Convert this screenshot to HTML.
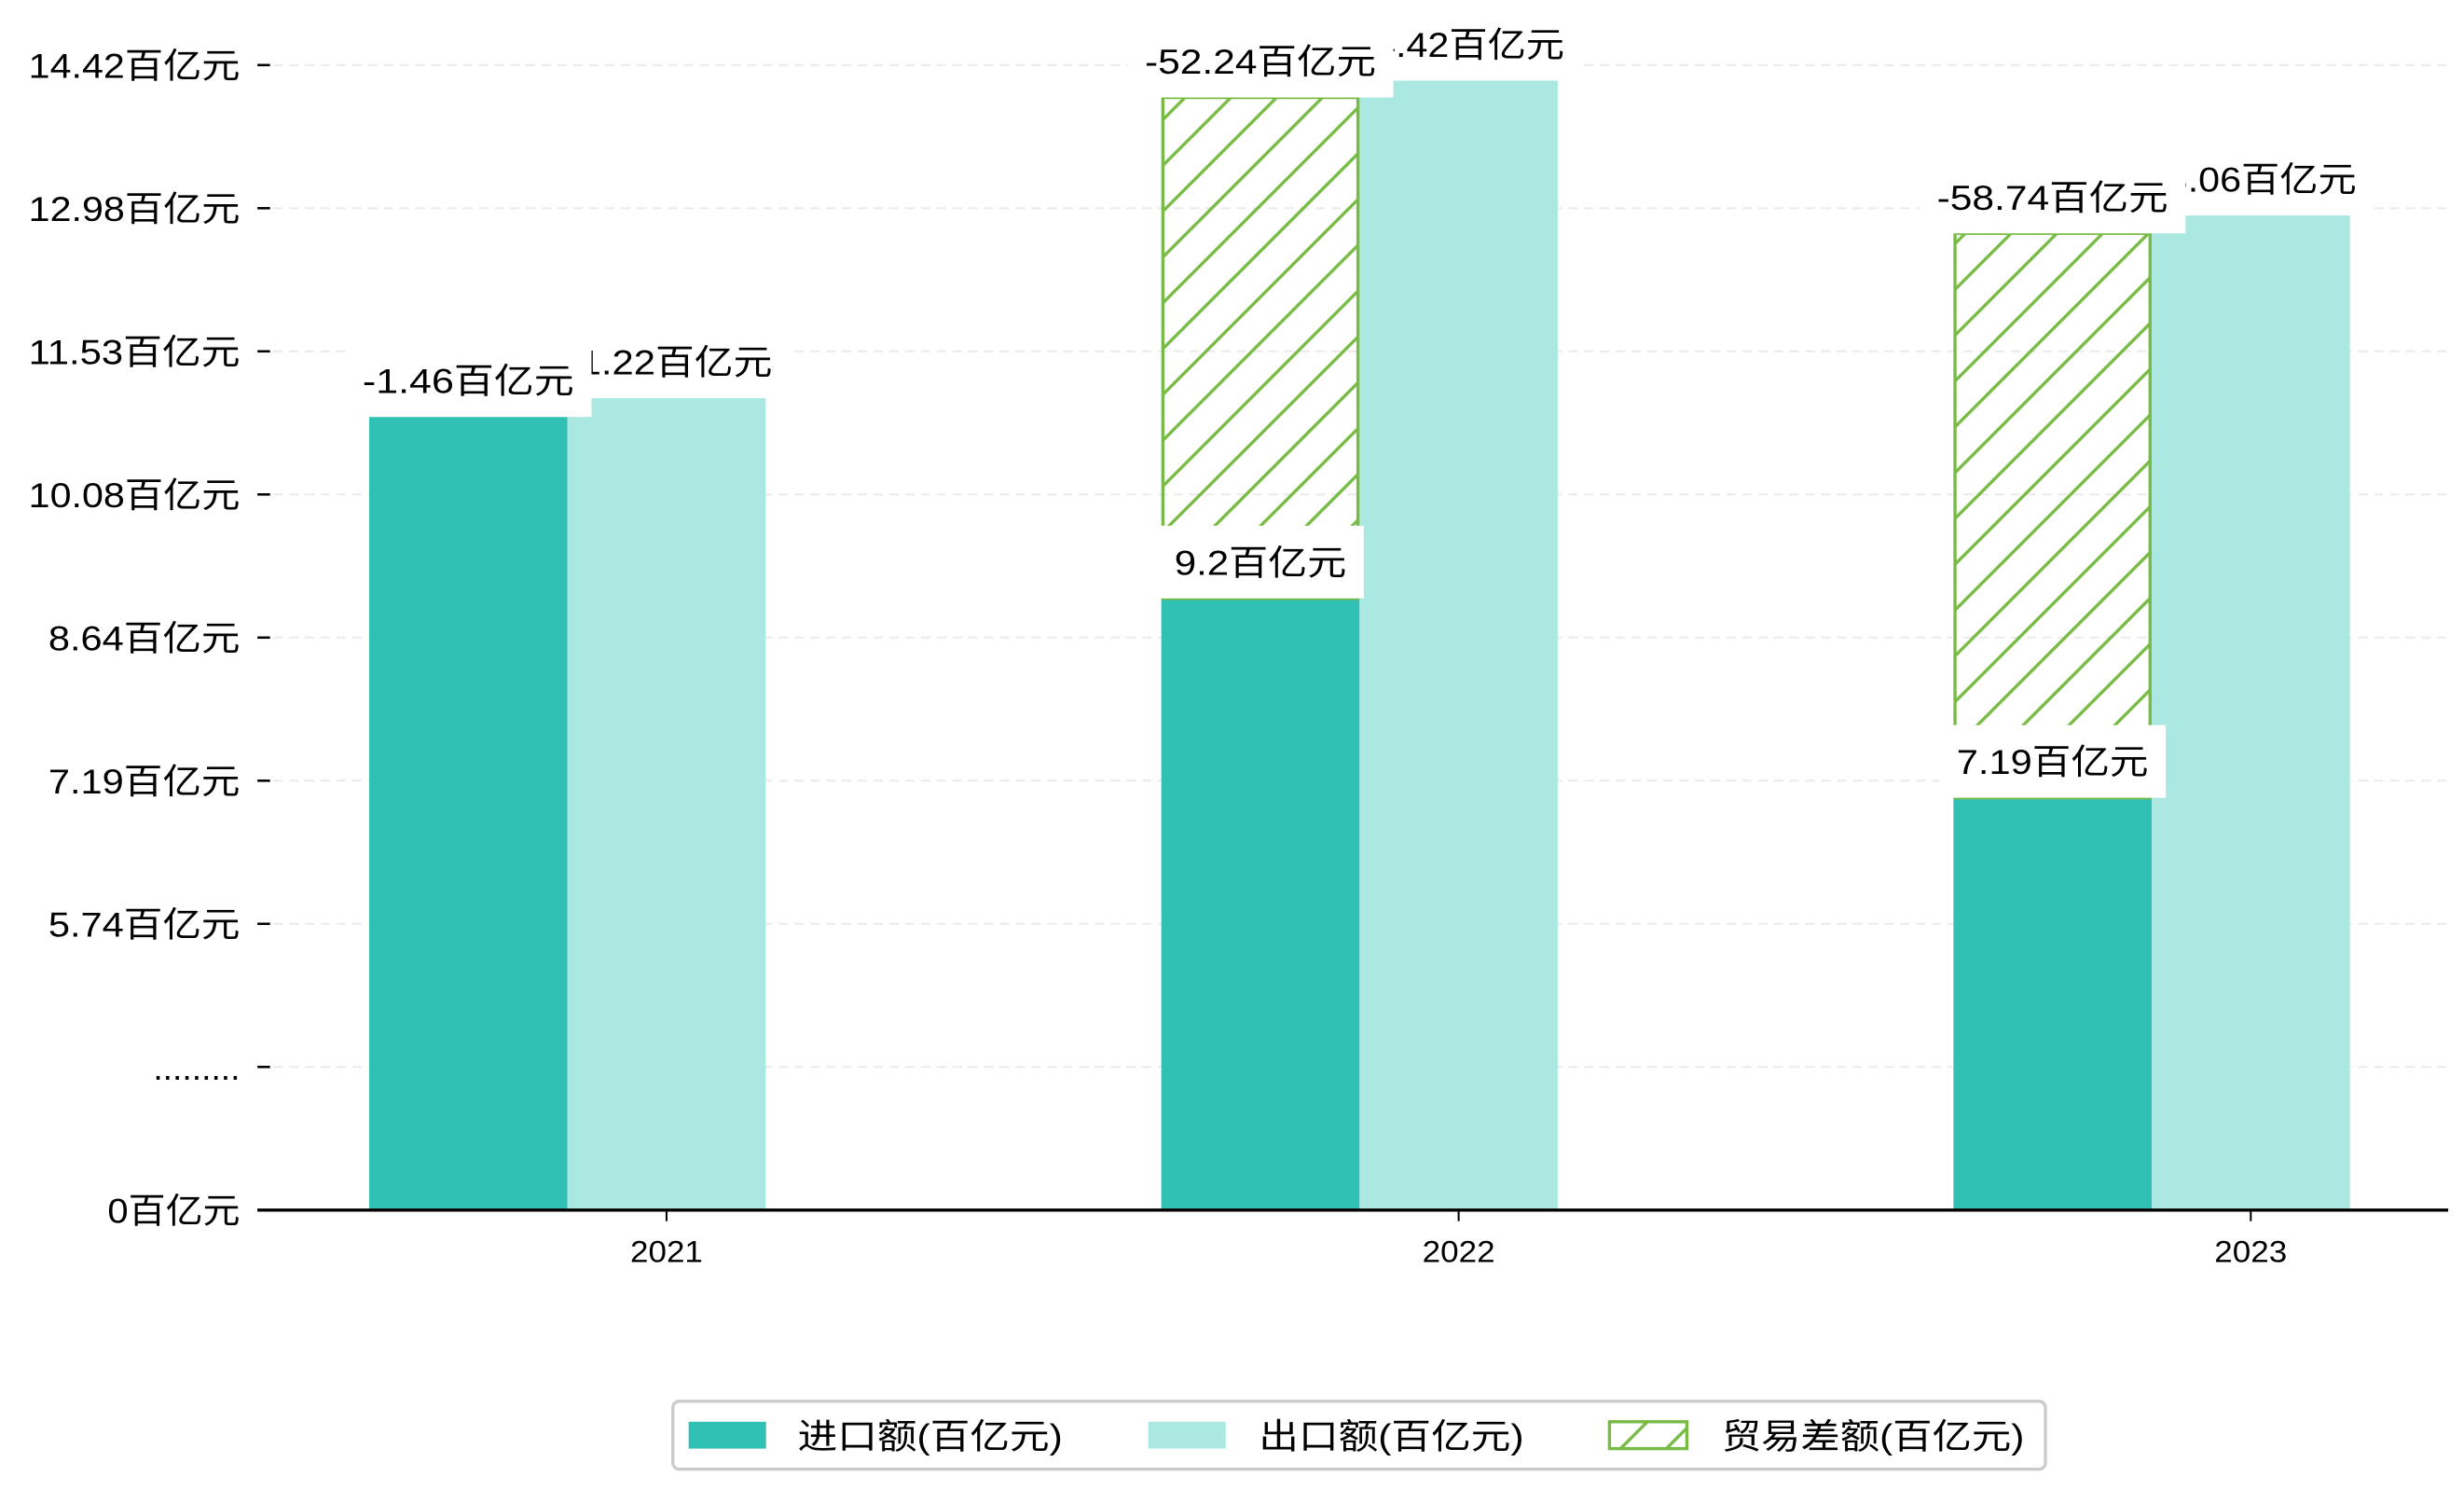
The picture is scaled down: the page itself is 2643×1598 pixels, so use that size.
<!DOCTYPE html>
<html><head><meta charset="utf-8"><style>
html,body{margin:0;padding:0;background:#fff;}
svg{display:block;}
text{font-family:"Liberation Sans","Noto Sans CJK SC",sans-serif;fill:#000;}
</style></head><body>
<svg id="chart" xmlns="http://www.w3.org/2000/svg" width="2643" height="1598" viewBox="0 0 1560 943.2" preserveAspectRatio="none">
<defs>
<pattern id="hatch" patternUnits="userSpaceOnUse" width="29" height="29">
<path d="M-2,31 L31,-2 M-16,16 L16,-16 M13,45 L45,13" stroke="#77bb44" stroke-width="2"/>
</pattern>
</defs>
<g id="grid"></g><g id="bars"></g><g id="labels"></g><g id="axes"></g>
<g id="legend">
<rect x="426" y="887" width="869" height="43" rx="4" fill="#fff" stroke="#ccc" stroke-width="2"/>
<rect x="436" y="900" width="49" height="17" fill="#31c1b4"/>
<text class="fit" x="505" y="917" font-size="22">进口额(百亿元)</text>
<rect x="727" y="900" width="49" height="17" fill="#aae8e1"/>
<text class="fit" x="797" y="917" font-size="22">出口额(百亿元)</text>
<rect x="1019" y="900" width="49" height="17" fill="url(#hatch)" stroke="#77bb44" stroke-width="2"/>
<text class="fit" x="1090" y="917" font-size="22">贸易差额(百亿元)</text>
</g>
</svg>
<script>
const categories = ["2021", "2022", "2023"];
const importValues = [11.03, 9.2, 7.19];
const exportValues = [11.22, 14.42, 13.06];
const gapValues = [0, 5.05, 5.69];
const importLabels = ["11.03百亿元", "9.2百亿元", "7.19百亿元"];
const exportLabels = ["11.22百亿元", "14.42百亿元", "13.06百亿元"];
const gapLabels = ["-1.46百亿元", "-52.24百亿元", "-58.74百亿元"];
const tickLabels = ["0百亿元", ".........", "5.74百亿元", "7.19百亿元", "8.64百亿元", "10.08百亿元", "11.53百亿元", "12.98百亿元", "14.42百亿元"];

const NS = "http://www.w3.org/2000/svg";
const X0 = 163, X1 = 1550, BASE = 766, TICKSTEP = 90.6;
const BW = 125.5;
function yScale(v){ return 505 - (v - 7.19) * 62.79; }
function xCenter(i){ return 422 + i * 501.5; }
function mk(tag, attrs, parent){ const e = document.createElementNS(NS, tag); for (const k in attrs) e.setAttribute(k, attrs[k]); parent.appendChild(e); return e; }
function textW(s, h, c){ let w = 0; for (const ch of s) w += (ch.charCodeAt(0) > 255) ? c : h; return w; }
function fit(t, h, c){ t.setAttribute('textLength', textW(t.textContent, h, c)); t.setAttribute('lengthAdjust', 'spacingAndGlyphs'); }

const grid = document.getElementById('grid'), axes = document.getElementById('axes');
tickLabels.forEach((t, i) => {
  const y = BASE - i * TICKSTEP;
  if (i > 0) {
    const g = mk('line', {x1: X0, x2: X1, y1: y, y2: y, stroke: '#ebebeb', 'stroke-width': 1.2, 'stroke-dasharray': '6,4'}, grid);
    
    
  }
  const tk = mk('line', {x1: 163, x2: 171, y1: y, y2: y, stroke: '#000', 'stroke-width': 1.5}, axes);
  
  
  const tx = mk('text', {x: 152, y: y + 8, 'font-size': 22, 'text-anchor': 'end'}, axes);
  tx.textContent = t;
  
  
  if (i !== 1) fit(tx, 12.5, 23.8);
});
const ax = mk('line', {x1: X0, x2: X1, y1: BASE, y2: BASE, stroke: '#000', 'stroke-width': 2}, axes);



const bars = document.getElementById('bars'), labels = document.getElementById('labels');
categories.forEach((c, i) => {
  const cx = xCenter(i);
  const xt = mk('line', {x1: cx, x2: cx, y1: BASE, y2: BASE + 7, stroke: '#000', 'stroke-width': 1.2}, axes);
  
  
  const xl = mk('text', {x: cx, y: 799, 'font-size': 19, 'text-anchor': 'middle'}, axes);
  xl.textContent = c;
  
  
  fit(xl, 11.5, 20);

  const iy = yScale(importValues[i]);
  const b1 = mk('rect', {x: cx - 1.5 * BW, y: iy, width: BW, height: BASE - iy, fill: '#31c1b4'}, bars);
  
  
  const ey = yScale(exportValues[i]);
  const b2 = mk('rect', {x: cx - 0.5 * BW, y: ey, width: BW, height: BASE - ey, fill: '#aae8e1'}, bars);
  
  
  const gy = yScale(importValues[i] + gapValues[i]);
  const b3 = mk('rect', {x: cx - 1.5 * BW + 1, y: gy, width: BW - 2, height: iy - gy, fill: 'url(#hatch)', stroke: '#77bb44', 'stroke-width': 2}, bars);
  
  
});

function label(txt, cx, top, name){
  const t = mk('text', {x: cx, y: top - 15, 'font-size': 22, 'text-anchor': 'middle'}, labels);
  t.textContent = txt;
  
  
  fit(t, 12.5, 23.8);
  const w = textW(txt, 12.5, 23.8);
  const r = mk('rect', {x: cx - w / 2 - 11, y: top - 46, width: w + 22, height: 46, fill: '#fff'}, labels);
  
  
  labels.insertBefore(r, t);
}
categories.forEach((c, i) => { label(exportLabels[i], xCenter(i), yScale(exportValues[i]), 'export-label-' + c); });
categories.forEach((c, i) => { label(importLabels[i], xCenter(i) - BW, yScale(importValues[i]), 'import-label-' + c); });
categories.forEach((c, i) => { label(gapLabels[i], xCenter(i) - BW, yScale(importValues[i] + gapValues[i]), 'gap-label-' + c); });

document.querySelectorAll('text.fit').forEach(t => fit(t, 12.5, 23.8));
</script>
</body></html>
